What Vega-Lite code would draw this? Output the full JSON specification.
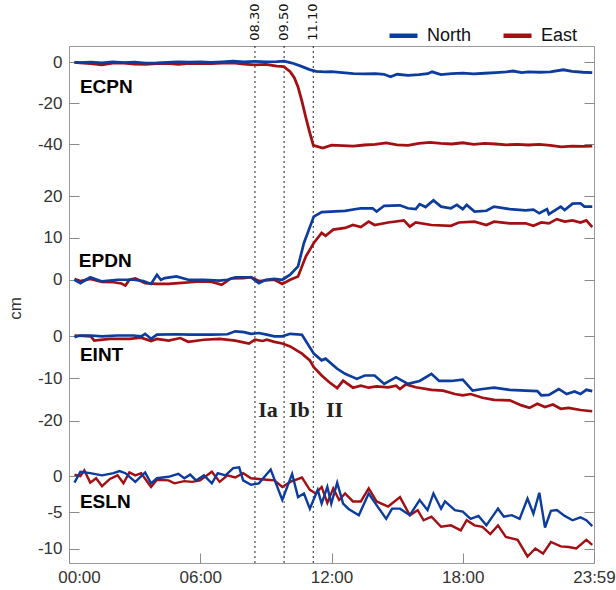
{
"$schema":"https://vega.github.io/schema/vega-lite/v6.json",
"width":525,"height":517,
"autosize":{"type":"none"},
"padding":{"left":69,"top":46,"right":22,"bottom":27},
"background":"white",
"config":{
 "view":{"stroke":"#9a9a9a","strokeWidth":1},
 "axis":{"domain":false,"grid":false,"ticks":true,"tickColor":"#8a8a8a","tickSize":10,"tickWidth":1,"offset":-10,"labelFont":"Liberation Sans","labelFontSize":17,"labelColor":"#333333","titleFont":"Liberation Sans","titleFontSize":17,"titleFontWeight":"normal","titleColor":"#333333"},
 "axisY":{"labelPadding":7},
 "axisX":{"labelPadding":6},
 "legend":{"orient":"none","legendX":318,"legendY":-27,"direction":"horizontal","padding":0,"symbolType":"stroke","symbolStrokeWidth":4.5,"symbolSize":784,"labelFont":"Liberation Sans","labelFontSize":18,"labelColor":"#111111","labelOffset":7,"columnPadding":22}
},
"datasets":{
 "events":[{"t":8.5,"label":"08.30"},{"t":9.8333,"label":"09.50"},{"t":11.1667,"label":"11.10"}],
 "ecpn":[
{"s":"East","t":0.25,"v":0},{"s":"East","t":0.5,"v":-0.2},{"s":"East","t":1,"v":-0.6},{"s":"East","t":1.5,"v":-1.2},{"s":"East","t":2,"v":-0.4},{"s":"East","t":2.5,"v":-0.3},{"s":"East","t":3,"v":-0.8},{"s":"East","t":3.5,"v":-1.0},{"s":"East","t":4,"v":-0.6},{"s":"East","t":4.5,"v":-0.5},{"s":"East","t":5,"v":-1.0},{"s":"East","t":5.5,"v":-0.5},{"s":"East","t":6,"v":-0.6},{"s":"East","t":6.5,"v":-0.6},{"s":"East","t":7,"v":-0.3},{"s":"East","t":7.5,"v":-0.2},{"s":"East","t":8,"v":-0.8},{"s":"East","t":8.5,"v":-1.2},{"s":"East","t":9,"v":-1.0},{"s":"East","t":9.5,"v":-1.8},{"s":"East","t":9.82,"v":-2.1},{"s":"East","t":10.11,"v":-4.5},{"s":"East","t":10.3,"v":-7.5},{"s":"East","t":10.47,"v":-12},{"s":"East","t":10.65,"v":-19},{"s":"East","t":10.83,"v":-27},{"s":"East","t":11.0,"v":-34},{"s":"East","t":11.17,"v":-40.5},{"s":"East","t":11.6,"v":-41.8},{"s":"East","t":12,"v":-40.4},{"s":"East","t":12.5,"v":-40.6},{"s":"East","t":13,"v":-40.8},{"s":"East","t":13.5,"v":-40.3},{"s":"East","t":14,"v":-40.0},{"s":"East","t":14.5,"v":-39.3},{"s":"East","t":15,"v":-40.2},{"s":"East","t":15.5,"v":-40.5},{"s":"East","t":16,"v":-39.5},{"s":"East","t":16.5,"v":-39.0},{"s":"East","t":17,"v":-39.5},{"s":"East","t":17.5,"v":-39.8},{"s":"East","t":18,"v":-39.2},{"s":"East","t":18.5,"v":-40.0},{"s":"East","t":19,"v":-39.5},{"s":"East","t":19.5,"v":-39.8},{"s":"East","t":20,"v":-40.2},{"s":"East","t":20.5,"v":-40.0},{"s":"East","t":21,"v":-40.3},{"s":"East","t":21.5,"v":-40.0},{"s":"East","t":22,"v":-40.5},{"s":"East","t":22.5,"v":-41.2},{"s":"East","t":23,"v":-40.8},{"s":"East","t":23.5,"v":-41.0},{"s":"East","t":23.92,"v":-40.8},
{"s":"North","t":0.25,"v":0},{"s":"North","t":0.5,"v":-0.1},{"s":"North","t":1,"v":0.1},{"s":"North","t":1.5,"v":-0.3},{"s":"North","t":2,"v":0.2},{"s":"North","t":2.5,"v":-0.1},{"s":"North","t":3,"v":0.1},{"s":"North","t":3.5,"v":-0.4},{"s":"North","t":4,"v":-0.3},{"s":"North","t":4.5,"v":0},{"s":"North","t":5,"v":0.3},{"s":"North","t":5.5,"v":0.1},{"s":"North","t":6,"v":0.2},{"s":"North","t":6.5,"v":0},{"s":"North","t":7,"v":0.3},{"s":"North","t":7.5,"v":0.6},{"s":"North","t":8,"v":0.3},{"s":"North","t":8.5,"v":0.5},{"s":"North","t":9,"v":0.3},{"s":"North","t":9.5,"v":0.4},{"s":"North","t":9.83,"v":0.6},{"s":"North","t":10.2,"v":-0.3},{"s":"North","t":10.6,"v":-1.8},{"s":"North","t":11.0,"v":-3.5},{"s":"North","t":11.3,"v":-4.4},{"s":"North","t":11.7,"v":-4.6},{"s":"North","t":12,"v":-4.5},{"s":"North","t":12.5,"v":-5.0},{"s":"North","t":13,"v":-5.5},{"s":"North","t":13.5,"v":-5.6},{"s":"North","t":14,"v":-5.5},{"s":"North","t":14.4,"v":-5.8},{"s":"North","t":14.7,"v":-7.0},{"s":"North","t":15,"v":-5.8},{"s":"North","t":15.5,"v":-6.3},{"s":"North","t":16,"v":-6.0},{"s":"North","t":16.4,"v":-5.5},{"s":"North","t":16.6,"v":-4.6},{"s":"North","t":17,"v":-6.0},{"s":"North","t":17.5,"v":-5.5},{"s":"North","t":18,"v":-5.2},{"s":"North","t":18.5,"v":-5.6},{"s":"North","t":19,"v":-5.3},{"s":"North","t":19.5,"v":-5.0},{"s":"North","t":20,"v":-4.6},{"s":"North","t":20.3,"v":-4.2},{"s":"North","t":20.7,"v":-5.0},{"s":"North","t":21,"v":-4.6},{"s":"North","t":21.5,"v":-4.8},{"s":"North","t":22,"v":-4.6},{"s":"North","t":22.6,"v":-3.6},{"s":"North","t":23,"v":-4.4},{"s":"North","t":23.5,"v":-4.8},{"s":"North","t":23.92,"v":-5.0}
 ],
 "epdn":[
{"s":"East","t":0.25,"v":0.2},{"s":"East","t":0.52,"v":-0.3},{"s":"East","t":0.97,"v":0.2},{"s":"East","t":1.51,"v":-0.5},{"s":"East","t":2.04,"v":-0.6},{"s":"East","t":2.4,"v":-0.9},{"s":"East","t":2.58,"v":-1.4},{"s":"East","t":2.76,"v":0},{"s":"East","t":3.03,"v":0.3},{"s":"East","t":3.48,"v":-0.8},{"s":"East","t":4.0,"v":-1},{"s":"East","t":4.55,"v":-1.0},{"s":"East","t":5.0,"v":-0.8},{"s":"East","t":5.54,"v":-0.6},{"s":"East","t":5.99,"v":-0.4},{"s":"East","t":6.53,"v":-0.5},{"s":"East","t":6.98,"v":-1.2},{"s":"East","t":7.4,"v":0.3},{"s":"East","t":7.96,"v":0.4},{"s":"East","t":8.32,"v":0.6},{"s":"East","t":8.68,"v":-0.3},{"s":"East","t":9.39,"v":0},{"s":"East","t":9.75,"v":-1.0},{"s":"East","t":10.11,"v":0},{"s":"East","t":10.47,"v":0.8},{"s":"East","t":10.83,"v":5.6},{"s":"East","t":11.19,"v":8.8},{"s":"East","t":11.55,"v":11.2},{"s":"East","t":11.73,"v":10.5},{"s":"East","t":12.08,"v":12},{"s":"East","t":12.62,"v":12.4},{"s":"East","t":12.98,"v":13.1},{"s":"East","t":13.34,"v":12.6},{"s":"East","t":13.7,"v":13.9},{"s":"East","t":13.97,"v":13.1},{"s":"East","t":14.59,"v":13.7},{"s":"East","t":15.31,"v":14.2},{"s":"East","t":15.58,"v":12.7},{"s":"East","t":15.85,"v":13.7},{"s":"East","t":16.57,"v":13.1},{"s":"East","t":17.46,"v":12.9},{"s":"East","t":17.82,"v":13.7},{"s":"East","t":18.54,"v":13.9},{"s":"East","t":19.08,"v":13.1},{"s":"East","t":19.43,"v":13.9},{"s":"East","t":20.15,"v":13.5},{"s":"East","t":20.87,"v":13.5},{"s":"East","t":21.23,"v":12.9},{"s":"East","t":21.59,"v":13.7},{"s":"East","t":21.94,"v":13.5},{"s":"East","t":22.3,"v":14.5},{"s":"East","t":22.66,"v":13.9},{"s":"East","t":23.02,"v":14.2},{"s":"East","t":23.38,"v":13.7},{"s":"East","t":23.65,"v":14.2},{"s":"East","t":23.92,"v":12.6},
{"s":"North","t":0.25,"v":0},{"s":"North","t":0.52,"v":-0.8},{"s":"North","t":0.97,"v":0.6},{"s":"North","t":1.51,"v":-0.4},{"s":"North","t":2.22,"v":0},{"s":"North","t":2.94,"v":0},{"s":"North","t":3.4,"v":-0.3},{"s":"North","t":3.75,"v":-1},{"s":"North","t":4.02,"v":1.2},{"s":"North","t":4.2,"v":0},{"s":"North","t":4.38,"v":0.4},{"s":"North","t":4.91,"v":0.8},{"s":"North","t":5.45,"v":0},{"s":"North","t":6.17,"v":0},{"s":"North","t":6.88,"v":-0.2},{"s":"North","t":7.24,"v":0},{"s":"North","t":7.6,"v":0.6},{"s":"North","t":8.32,"v":0.6},{"s":"North","t":8.68,"v":-0.8},{"s":"North","t":9.0,"v":0},{"s":"North","t":9.39,"v":0.2},{"s":"North","t":9.75,"v":0.0},{"s":"North","t":10.11,"v":1.2},{"s":"North","t":10.47,"v":3.2},{"s":"North","t":10.74,"v":8.8},{"s":"North","t":11.19,"v":15.1},{"s":"North","t":11.55,"v":16.2},{"s":"North","t":12.62,"v":16.5},{"s":"North","t":13.34,"v":17.1},{"s":"North","t":13.88,"v":17.1},{"s":"North","t":14.06,"v":16.3},{"s":"North","t":14.41,"v":17.7},{"s":"North","t":15.13,"v":17.8},{"s":"North","t":15.49,"v":17.1},{"s":"North","t":15.85,"v":16.9},{"s":"North","t":16.03,"v":18.1},{"s":"North","t":16.3,"v":17.4},{"s":"North","t":16.66,"v":19.0},{"s":"North","t":17.01,"v":17.5},{"s":"North","t":17.46,"v":17.1},{"s":"North","t":17.73,"v":17.9},{"s":"North","t":18.0,"v":16.9},{"s":"North","t":18.18,"v":17.9},{"s":"North","t":18.54,"v":16.3},{"s":"North","t":19.08,"v":16.5},{"s":"North","t":19.43,"v":17.5},{"s":"North","t":20.15,"v":16.9},{"s":"North","t":20.87,"v":16.6},{"s":"North","t":21.23,"v":16.8},{"s":"North","t":21.5,"v":15.9},{"s":"North","t":21.85,"v":16.9},{"s":"North","t":21.94,"v":15.7},{"s":"North","t":22.48,"v":17.5},{"s":"North","t":22.66,"v":16.7},{"s":"North","t":23.02,"v":18.2},{"s":"North","t":23.38,"v":18.3},{"s":"North","t":23.56,"v":17.5},{"s":"North","t":23.92,"v":17.5}
 ],
 "eint":[
{"s":"East","t":0.25,"v":0.2},{"s":"East","t":1.0,"v":0},{"s":"East","t":1.15,"v":-1.0},{"s":"East","t":1.87,"v":-0.6},{"s":"East","t":2.76,"v":-0.6},{"s":"East","t":3.3,"v":-0.3},{"s":"East","t":3.75,"v":-1.1},{"s":"East","t":4.02,"v":-0.6},{"s":"East","t":4.55,"v":-1.0},{"s":"East","t":5.09,"v":-0.4},{"s":"East","t":5.45,"v":-1.3},{"s":"East","t":6.17,"v":-0.8},{"s":"East","t":6.89,"v":-0.6},{"s":"East","t":7.6,"v":-1.0},{"s":"East","t":8.23,"v":-1.7},{"s":"East","t":8.5,"v":-0.8},{"s":"East","t":8.86,"v":-1.1},{"s":"East","t":9.04,"v":-0.8},{"s":"East","t":9.39,"v":-1.3},{"s":"East","t":9.75,"v":-1.7},{"s":"East","t":10.11,"v":-2.4},{"s":"East","t":10.65,"v":-4.1},{"s":"East","t":11.01,"v":-5.7},{"s":"East","t":11.19,"v":-7.3},{"s":"East","t":11.55,"v":-9.3},{"s":"East","t":11.9,"v":-10.9},{"s":"East","t":12.26,"v":-12.3},{"s":"East","t":12.53,"v":-10.5},{"s":"East","t":12.98,"v":-12.2},{"s":"East","t":13.34,"v":-11.7},{"s":"East","t":13.7,"v":-12.2},{"s":"East","t":14.06,"v":-11.9},{"s":"East","t":14.59,"v":-12.1},{"s":"East","t":14.95,"v":-11.7},{"s":"East","t":15.13,"v":-12.5},{"s":"East","t":15.4,"v":-11.4},{"s":"East","t":15.85,"v":-12.1},{"s":"East","t":16.57,"v":-12.7},{"s":"East","t":17.1,"v":-12.9},{"s":"East","t":17.64,"v":-13.7},{"s":"East","t":18.0,"v":-14.0},{"s":"East","t":18.36,"v":-13.7},{"s":"East","t":18.9,"v":-14.6},{"s":"East","t":19.43,"v":-15.1},{"s":"East","t":20.15,"v":-15.2},{"s":"East","t":20.69,"v":-16.4},{"s":"East","t":21.05,"v":-17.0},{"s":"East","t":21.41,"v":-16.0},{"s":"East","t":21.76,"v":-16.8},{"s":"East","t":22.12,"v":-16.2},{"s":"East","t":22.48,"v":-17.2},{"s":"East","t":22.84,"v":-17.0},{"s":"East","t":23.38,"v":-17.5},{"s":"East","t":23.92,"v":-17.8},
{"s":"North","t":0.25,"v":-0.2},{"s":"North","t":0.5,"v":0.2},{"s":"North","t":1.0,"v":0.2},{"s":"North","t":1.51,"v":0},{"s":"North","t":2.2,"v":0.2},{"s":"North","t":2.94,"v":0.2},{"s":"North","t":3.3,"v":0},{"s":"North","t":3.48,"v":0.6},{"s":"North","t":3.75,"v":-0.6},{"s":"North","t":4.02,"v":0.4},{"s":"North","t":4.91,"v":0.5},{"s":"North","t":5.5,"v":0.4},{"s":"North","t":6.5,"v":0.4},{"s":"North","t":7.24,"v":0.5},{"s":"North","t":7.6,"v":1.2},{"s":"North","t":8.0,"v":1.0},{"s":"North","t":8.32,"v":0.6},{"s":"North","t":8.68,"v":0.8},{"s":"North","t":9.04,"v":0.4},{"s":"North","t":9.39,"v":0},{"s":"North","t":9.75,"v":0},{"s":"North","t":10.11,"v":0.6},{"s":"North","t":10.65,"v":0.4},{"s":"North","t":11.19,"v":-4.1},{"s":"North","t":11.55,"v":-5.7},{"s":"North","t":11.73,"v":-5.3},{"s":"North","t":12.26,"v":-7.7},{"s":"North","t":12.62,"v":-8.9},{"s":"North","t":13.16,"v":-10.1},{"s":"North","t":13.52,"v":-9.3},{"s":"North","t":13.97,"v":-9.3},{"s":"North","t":14.41,"v":-11.3},{"s":"North","t":14.95,"v":-9.7},{"s":"North","t":15.49,"v":-11.3},{"s":"North","t":16.03,"v":-10.6},{"s":"North","t":16.57,"v":-8.9},{"s":"North","t":16.92,"v":-10.6},{"s":"North","t":17.46,"v":-10.6},{"s":"North","t":18.0,"v":-10.3},{"s":"North","t":18.45,"v":-12.9},{"s":"North","t":18.9,"v":-12.5},{"s":"North","t":19.43,"v":-12.2},{"s":"North","t":20.15,"v":-12.7},{"s":"North","t":20.87,"v":-12.9},{"s":"North","t":21.41,"v":-13.0},{"s":"North","t":21.59,"v":-14.0},{"s":"North","t":21.94,"v":-13.9},{"s":"North","t":22.39,"v":-12.5},{"s":"North","t":22.75,"v":-13.7},{"s":"North","t":23.11,"v":-13.1},{"s":"North","t":23.38,"v":-13.7},{"s":"North","t":23.65,"v":-12.7},{"s":"North","t":23.92,"v":-13.0}
 ],
 "esln":[
{"s":"East","t":0.25,"v":0.2},{"s":"East","t":0.52,"v":0.0},{"s":"East","t":0.7,"v":0.8},{"s":"East","t":0.97,"v":-0.9},{"s":"East","t":1.24,"v":-0.3},{"s":"East","t":1.51,"v":-1.4},{"s":"East","t":1.87,"v":-0.4},{"s":"East","t":2.22,"v":0.1},{"s":"East","t":2.49,"v":-1.0},{"s":"East","t":2.76,"v":0.5},{"s":"East","t":3.03,"v":0.1},{"s":"East","t":3.3,"v":0.4},{"s":"East","t":3.75,"v":-1.5},{"s":"East","t":4.02,"v":-0.5},{"s":"East","t":4.55,"v":-0.6},{"s":"East","t":4.82,"v":-1.0},{"s":"East","t":5.27,"v":-0.7},{"s":"East","t":5.63,"v":-0.8},{"s":"East","t":5.99,"v":-0.6},{"s":"East","t":6.53,"v":0.6},{"s":"East","t":6.89,"v":-0.8},{"s":"East","t":7.24,"v":0.1},{"s":"East","t":7.6,"v":-0.2},{"s":"East","t":7.96,"v":0.4},{"s":"East","t":8.32,"v":-0.3},{"s":"East","t":9.04,"v":-0.5},{"s":"East","t":9.39,"v":-0.6},{"s":"East","t":9.75,"v":-1.5},{"s":"East","t":10.11,"v":-0.8},{"s":"East","t":10.65,"v":-0.2},{"s":"East","t":11.01,"v":-1.9},{"s":"East","t":11.28,"v":-2.4},{"s":"East","t":11.55,"v":-1.5},{"s":"East","t":11.81,"v":-3.7},{"s":"East","t":12.08,"v":-1.7},{"s":"East","t":12.35,"v":-3.3},{"s":"East","t":12.62,"v":-2.4},{"s":"East","t":12.98,"v":-3.5},{"s":"East","t":13.34,"v":-3.5},{"s":"East","t":13.7,"v":-1.7},{"s":"East","t":14.06,"v":-3.5},{"s":"East","t":14.59,"v":-4.2},{"s":"East","t":15.13,"v":-2.9},{"s":"East","t":15.58,"v":-5.4},{"s":"East","t":15.94,"v":-4.7},{"s":"East","t":16.21,"v":-6.1},{"s":"East","t":16.57,"v":-5.6},{"s":"East","t":17.01,"v":-7.0},{"s":"East","t":17.46,"v":-6.8},{"s":"East","t":17.91,"v":-7.5},{"s":"East","t":18.18,"v":-6.1},{"s":"East","t":18.54,"v":-6.8},{"s":"East","t":18.9,"v":-7.0},{"s":"East","t":19.26,"v":-8.0},{"s":"East","t":19.61,"v":-6.8},{"s":"East","t":19.97,"v":-8.4},{"s":"East","t":20.51,"v":-8.8},{"s":"East","t":20.96,"v":-11.1},{"s":"East","t":21.32,"v":-10.0},{"s":"East","t":21.67,"v":-10.7},{"s":"East","t":22.03,"v":-9.1},{"s":"East","t":22.48,"v":-9.7},{"s":"East","t":22.84,"v":-9.8},{"s":"East","t":23.19,"v":-10.0},{"s":"East","t":23.65,"v":-8.8},{"s":"East","t":23.92,"v":-9.5},
{"s":"North","t":0.25,"v":-0.9},{"s":"North","t":0.52,"v":0.6},{"s":"North","t":0.97,"v":0.4},{"s":"North","t":1.51,"v":0.1},{"s":"North","t":2.04,"v":0.4},{"s":"North","t":2.31,"v":0.7},{"s":"North","t":2.58,"v":0.4},{"s":"North","t":3.03,"v":-0.8},{"s":"North","t":3.48,"v":0.5},{"s":"North","t":3.75,"v":-1.0},{"s":"North","t":4.02,"v":-0.3},{"s":"North","t":4.55,"v":-0.1},{"s":"North","t":5.0,"v":0.3},{"s":"North","t":5.27,"v":-0.3},{"s":"North","t":5.54,"v":0.2},{"s":"North","t":5.81,"v":-0.6},{"s":"North","t":6.17,"v":0.1},{"s":"North","t":6.53,"v":-1.0},{"s":"North","t":6.8,"v":0.4},{"s":"North","t":7.15,"v":0.1},{"s":"North","t":7.51,"v":1.1},{"s":"North","t":7.78,"v":1.2},{"s":"North","t":7.96,"v":-0.6},{"s":"North","t":8.32,"v":-1.2},{"s":"North","t":8.68,"v":-1.0},{"s":"North","t":9.22,"v":0.9},{"s":"North","t":9.75,"v":-3.3},{"s":"North","t":10.2,"v":0.3},{"s":"North","t":10.47,"v":-2.9},{"s":"North","t":10.74,"v":-2.4},{"s":"North","t":11.01,"v":-4.5},{"s":"North","t":11.37,"v":-1.9},{"s":"North","t":11.55,"v":-3.8},{"s":"North","t":11.81,"v":-1.5},{"s":"North","t":11.99,"v":-3.8},{"s":"North","t":12.26,"v":-0.9},{"s":"North","t":12.53,"v":-3.8},{"s":"North","t":12.8,"v":-4.6},{"s":"North","t":13.25,"v":-5.4},{"s":"North","t":13.7,"v":-2.4},{"s":"North","t":14.06,"v":-4.0},{"s":"North","t":14.5,"v":-5.9},{"s":"North","t":14.77,"v":-4.5},{"s":"North","t":15.13,"v":-4.5},{"s":"North","t":15.58,"v":-5.4},{"s":"North","t":16.03,"v":-3.3},{"s":"North","t":16.39,"v":-4.7},{"s":"North","t":16.66,"v":-2.4},{"s":"North","t":17.01,"v":-4.5},{"s":"North","t":17.19,"v":-3.5},{"s":"North","t":17.64,"v":-4.7},{"s":"North","t":18.0,"v":-4.9},{"s":"North","t":18.36,"v":-5.9},{"s":"North","t":18.72,"v":-5.5},{"s":"North","t":19.08,"v":-6.8},{"s":"North","t":19.61,"v":-4.5},{"s":"North","t":19.88,"v":-5.6},{"s":"North","t":20.24,"v":-5.4},{"s":"North","t":20.6,"v":-5.9},{"s":"North","t":20.96,"v":-3.1},{"s":"North","t":21.23,"v":-5.2},{"s":"North","t":21.5,"v":-2.3},{"s":"North","t":21.76,"v":-7.1},{"s":"North","t":22.03,"v":-4.8},{"s":"North","t":22.3,"v":-4.7},{"s":"North","t":22.66,"v":-5.5},{"s":"North","t":23.02,"v":-6.1},{"s":"North","t":23.38,"v":-5.7},{"s":"North","t":23.65,"v":-6.1},{"s":"North","t":23.92,"v":-6.9}
 ]
},
"resolve":{"scale":{"y":"independent"},"axis":{"x":"independent","y":"independent"}},
"layer":[
 {"data":{"name":"events"},
  "mark":{"type":"rule","strokeDash":[2,3],"color":"#222222","strokeWidth":1},
  "encoding":{"x":{"field":"t","type":"quantitative","scale":{"domain":[0,24],"nice":false,"zero":false},"axis":{"orient":"bottom","values":[0,6,12,18,24],"title":null,"labelFlush":false,"labelOverlap":false,"labelExpr":"datum.value == 24 ? '23:59' : (datum.value < 10 ? '0' : '') + datum.value + ':00'","labelOffset":{"condition":{"test":"datum.value == 0","value":10},"value":0}}}}},
 {"data":{"name":"ecpn"},
  "resolve":{"axis":{"y":"independent"}},
  "layer":[
   {"mark":{"type":"line","strokeWidth":2.8},
    "encoding":{
     "x":{"field":"t","type":"quantitative","scale":{"domain":[0,24],"nice":false,"zero":false},"axis":{"orient":"top","values":[0,6,12,18,24],"labels":false,"title":null}},
     "y":{"field":"v","type":"quantitative","scale":{"domain":[-52,8],"range":[123,0],"nice":false,"zero":false},"axis":{"orient":"left","values":[0,-20,-40],"title":null,"labelExpr":"'' + datum.value"}},
     "color":{"field":"s","type":"nominal","scale":{"domain":["North","East"],"range":["#0b3c9e","#a30f12"]},"legend":{"title":null}}}},
   {"data":{"values":[{"label":"ECPN"}]},
    "mark":{"type":"text","align":"left","baseline":"middle","font":"Liberation Sans","fontWeight":"bold","fontSize":19,"color":"#000000"},
    "encoding":{"x":{"datum":0.5,"type":"quantitative","axis":null},"y":{"datum":-12.1,"type":"quantitative","axis":{"orient":"right","values":[0,-20,-40],"labels":false,"title":null}},"text":{"field":"label"}}},
   {"data":{"name":"events"},
    "mark":{"type":"text","angle":270,"align":"left","baseline":"middle","font":"DejaVu Sans","fontSize":13,"color":"#111111"},
    "encoding":{"x":{"field":"t","type":"quantitative","axis":null},"y":{"datum":10.6,"type":"quantitative","axis":null},"text":{"field":"label"}}}
  ]},
 {"data":{"name":"epdn"},
  "resolve":{"axis":{"y":"independent"}},
  "layer":[
   {"mark":{"type":"line","strokeWidth":2.7},
    "encoding":{
     "x":{"field":"t","type":"quantitative","scale":{"domain":[0,24],"nice":false,"zero":false},"axis":null},
     "y":{"field":"v","type":"quantitative","scale":{"domain":[-7,26.5],"range":[263,123],"nice":false,"zero":false},"axis":{"orient":"left","values":[0,10,20],"labelExpr":"'' + datum.value","title":"cm","titleX":-64,"titleY":262,"titleAngle":-90,"titleAlign":"center","titleBaseline":"middle"}},
     "color":{"field":"s","type":"nominal","scale":{"domain":["North","East"],"range":["#0b3c9e","#a30f12"]},"legend":{"title":null}}}},
   {"data":{"values":[{"label":"EPDN"}]},
    "mark":{"type":"text","align":"left","baseline":"middle","font":"Liberation Sans","fontWeight":"bold","fontSize":19,"color":"#000000"},
    "encoding":{"x":{"datum":0.45,"type":"quantitative","axis":null},"y":{"datum":4.5,"type":"quantitative","axis":{"orient":"right","values":[0,10,20],"labels":false,"title":null}},"text":{"field":"label"}}}
  ]},
 {"data":{"name":"eint"},
  "resolve":{"axis":{"y":"independent"}},
  "layer":[
   {"mark":{"type":"line","strokeWidth":2.7},
    "encoding":{
     "x":{"field":"t","type":"quantitative","scale":{"domain":[0,24],"nice":false,"zero":false},"axis":null},
     "y":{"field":"v","type":"quantitative","scale":{"domain":[-27,6.5],"range":[404,263],"nice":false,"zero":false},"axis":{"orient":"left","values":[0,-10,-20],"title":null,"labelExpr":"'' + datum.value"}},
     "color":{"field":"s","type":"nominal","scale":{"domain":["North","East"],"range":["#0b3c9e","#a30f12"]},"legend":{"title":null}}}},
   {"data":{"values":[{"label":"EINT"}]},
    "mark":{"type":"text","align":"left","baseline":"middle","font":"Liberation Sans","fontWeight":"bold","fontSize":19,"color":"#000000"},
    "encoding":{"x":{"datum":0.5,"type":"quantitative","axis":null},"y":{"datum":-4.4,"type":"quantitative","axis":{"orient":"right","values":[0,-10,-20],"labels":false,"title":null}},"text":{"field":"label"}}},
   {"data":{"values":[{"label":"Ia"}]},
    "mark":{"type":"text","align":"center","baseline":"middle","font":"Liberation Serif","fontWeight":"bold","fontSize":22,"color":"#222222"},
    "encoding":{"x":{"datum":9.1,"type":"quantitative","axis":null},"y":{"datum":-17.4,"type":"quantitative","axis":null},"text":{"field":"label"}}},
   {"data":{"values":[{"label":"Ib"}]},
    "mark":{"type":"text","align":"center","baseline":"middle","font":"Liberation Serif","fontWeight":"bold","fontSize":22,"color":"#222222"},
    "encoding":{"x":{"datum":10.53,"type":"quantitative","axis":null},"y":{"datum":-17.4,"type":"quantitative","axis":null},"text":{"field":"label"}}},
   {"data":{"values":[{"label":"II"}]},
    "mark":{"type":"text","align":"center","baseline":"middle","font":"Liberation Serif","fontWeight":"bold","fontSize":22,"color":"#222222"},
    "encoding":{"x":{"datum":12.14,"type":"quantitative","axis":null},"y":{"datum":-17.4,"type":"quantitative","axis":null},"text":{"field":"label"}}}
  ]},
 {"data":{"name":"esln"},
  "resolve":{"axis":{"y":"independent"}},
  "layer":[
   {"mark":{"type":"line","strokeWidth":2.4},
    "encoding":{
     "x":{"field":"t","type":"quantitative","scale":{"domain":[0,24],"nice":false,"zero":false},"axis":null},
     "y":{"field":"v","type":"quantitative","scale":{"domain":[-12,3.6],"range":[517,404],"nice":false,"zero":false},"axis":{"orient":"left","values":[0,-5,-10],"title":null,"labelExpr":"'' + datum.value"}},
     "color":{"field":"s","type":"nominal","scale":{"domain":["North","East"],"range":["#0b3c9e","#a30f12"]},"legend":{"title":null}}}},
   {"data":{"values":[{"label":"ESLN"}]},
    "mark":{"type":"text","align":"left","baseline":"middle","font":"Liberation Sans","fontWeight":"bold","fontSize":19,"color":"#000000"},
    "encoding":{"x":{"datum":0.5,"type":"quantitative","axis":null},"y":{"datum":-3.53,"type":"quantitative","axis":{"orient":"right","values":[0,-5,-10],"labels":false,"title":null}},"text":{"field":"label"}}}
  ]}
]
}
